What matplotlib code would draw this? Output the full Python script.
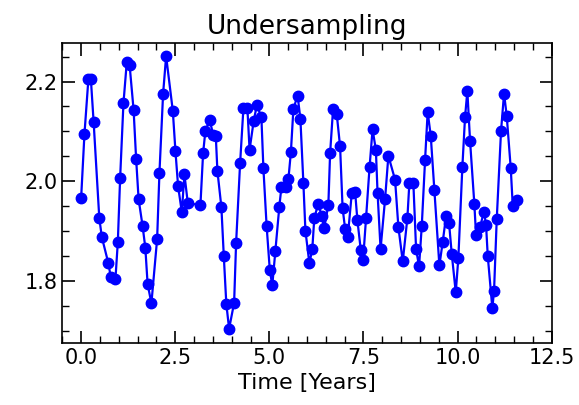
import numpy as np
import matplotlib
matplotlib.use("Agg")
import matplotlib.pyplot as plt
from matplotlib.ticker import MultipleLocator

# Values (time in years, signal value)
time_years = [
    0.000, 0.088, 0.194, 0.258, 0.332, 0.483, 0.550, 0.725, 0.789, 0.911,
    0.975, 1.036, 1.124, 1.214, 1.288, 1.394, 1.461, 1.527, 1.633, 1.705,
    1.766, 1.867, 2.019, 2.080, 2.178, 2.258, 2.436, 2.505, 2.576, 2.675,
    2.744, 2.834, 3.169, 3.240, 3.301, 3.413, 3.511, 3.578, 3.620, 3.726,
    3.790, 3.857, 3.931, 4.064, 4.117, 4.223, 4.311, 4.417, 4.475, 4.582,
    4.669, 4.789, 4.842, 4.927, 5.012, 5.078, 5.161, 5.264, 5.320, 5.432,
    5.506, 5.572, 5.639, 5.750, 5.825, 5.904, 5.958, 6.064, 6.141, 6.194,
    6.295, 6.393, 6.459, 6.568, 6.614, 6.693, 6.791, 6.879, 6.946, 7.012,
    7.084, 7.190, 7.278, 7.339, 7.429, 7.490, 7.570, 7.663, 7.742, 7.830,
    7.875, 7.955, 8.074, 8.162, 8.340, 8.428, 8.544, 8.667, 8.720, 8.826,
    8.898, 8.977, 9.049, 9.137, 9.206, 9.288, 9.384, 9.517, 9.607, 9.695,
    9.774, 9.846, 9.952, 10.021, 10.127, 10.199, 10.260, 10.332, 10.446, 10.491,
    10.598, 10.704, 10.757, 10.802, 10.924, 10.969, 11.041, 11.155, 11.235, 11.306,
    11.413, 11.466, 11.572,
]
signal = [
    1.966, 2.094, 2.206, 2.206, 2.119, 1.926, 1.888, 1.835, 1.807, 1.803,
    1.878, 2.006, 2.156, 2.240, 2.233, 2.143, 2.045, 1.964, 1.910, 1.867,
    1.794, 1.755, 1.884, 2.016, 2.176, 2.251, 2.141, 2.061, 1.990, 1.938,
    2.014, 1.956, 1.952, 2.056, 2.101, 2.123, 2.093, 2.090, 2.021, 1.948,
    1.850, 1.754, 1.704, 1.756, 1.876, 2.036, 2.146, 2.146, 2.063, 2.120,
    2.153, 2.128, 2.026, 1.911, 1.822, 1.791, 1.861, 1.948, 1.988, 1.988,
    2.004, 2.058, 2.145, 2.172, 2.125, 1.997, 1.901, 1.835, 1.864, 1.926,
    1.954, 1.931, 1.906, 1.953, 2.056, 2.145, 2.134, 2.070, 1.946, 1.905,
    1.889, 1.976, 1.979, 1.922, 1.862, 1.842, 1.927, 2.029, 2.104, 2.063,
    1.976, 1.864, 1.964, 2.051, 2.003, 1.908, 1.839, 1.926, 1.997, 1.996,
    1.864, 1.829, 1.910, 2.043, 2.139, 2.091, 1.982, 1.831, 1.879, 1.930,
    1.916, 1.854, 1.777, 1.846, 2.028, 2.129, 2.181, 2.081, 1.954, 1.892,
    1.909, 1.939, 1.912, 1.850, 1.745, 1.780, 1.924, 2.101, 2.176, 2.131,
    2.026, 1.951, 1.962,
]

fig = plt.figure(figsize=(5.79, 4.05), dpi=100)
ax = fig.add_axes([0.1076, 0.1538, 0.8452, 0.7408])

ax.plot(time_years, signal, 'o-', color='blue', markersize=7.5, linewidth=1.6)

ax.set_xlim(-0.5, 12.5)
ax.set_ylim(1.676, 2.278)
ax.xaxis.set_major_locator(MultipleLocator(2.5))
ax.xaxis.set_minor_locator(MultipleLocator(0.5))
ax.yaxis.set_major_locator(MultipleLocator(0.2))
ax.yaxis.set_minor_locator(MultipleLocator(0.05))
ax.tick_params(which='both', direction='in', top=True, right=True, labelsize=15)
ax.tick_params(which='major', length=9, width=1.2)
ax.tick_params(which='minor', length=5, width=1.0)
for sp in ax.spines.values():
    sp.set_linewidth(1.2)

ax.set_xlabel("Time [Years]", fontsize=16)
ax.set_title("Undersampling", fontsize=19)

fig.savefig("out.png", dpi=100)
